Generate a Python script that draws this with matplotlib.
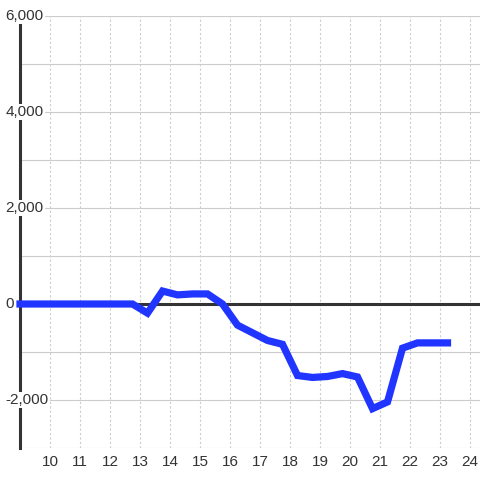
import matplotlib
matplotlib.use("Agg")
import matplotlib.pyplot as plt

plt.rcParams["font.family"] = ["Liberation Sans", "DejaVu Sans"]

# half-hour samples
hours = [9.0, 9.25, 9.75, 10.25, 10.75, 11.25, 11.75, 12.25, 12.75,
         13.25, 13.75, 14.25, 14.75, 15.25, 15.75, 16.25, 16.75,
         17.25, 17.75, 18.25, 18.75, 19.25, 19.75, 20.25, 20.75,
         21.25, 21.75, 22.25, 22.75, 23.25]
values = [0, 0, 0, 0, 0, 0, 0, 0, 0,
          -190, 270, 190, 210, 210, 0, -440, -600,
          -760, -840, -1490, -1530, -1510, -1450, -1520, -2180,
          -2040, -920, -810, -810, -810]

x_ticks = list(range(10, 25))
y_grid = list(range(-3000, 7000, 1000))
y_labels = [-2000, 0, 2000, 4000, 6000]

text_color = "#333333"
grid_color = "#cccccc"
fs = 11

fig = plt.figure(figsize=(4.8, 4.8), dpi=100)
ax = fig.add_axes([20 / 480, 32 / 480, 460 / 480, 432 / 480])
ax.set_xlim(9.0, 24.333)
ax.set_ylim(-3000, 6000)

ax.set_xticks(x_ticks)
ax.set_yticks(y_grid)
ax.tick_params(axis="x", length=0, pad=5, labelsize=fs, labelcolor=text_color)
ax.tick_params(axis="y", length=0, labelleft=False)
ax.grid(axis="x", color=grid_color, lw=0.8, ls=(0, (2, 2)))
ax.grid(axis="y", color=grid_color, lw=0.8)
ax.set_axisbelow(True)

for s in ["top", "right", "bottom"]:
    ax.spines[s].set_visible(False)
ax.spines["left"].set_color(text_color)
ax.spines["left"].set_linewidth(2.2)
ax.spines["left"].set_bounds(-3000, 5830)

ax.axhline(0, color=text_color, lw=2.2, zorder=2)
ax.plot(hours, values, color="#2035ff", lw=5.2, zorder=4, clip_on=False,
        solid_joinstyle="miter", solid_capstyle="projecting")

# y labels sit over the axis line with a white box behind them
for v in y_labels:
    ax.text(-0.031, v, f"{v:,}", transform=ax.get_yaxis_transform(),
            ha="left", va="center", fontsize=fs, color=text_color,
            bbox=dict(fc="white", ec="none", pad=0.5), zorder=5, clip_on=False)

fig.savefig("out.png", dpi=100)
